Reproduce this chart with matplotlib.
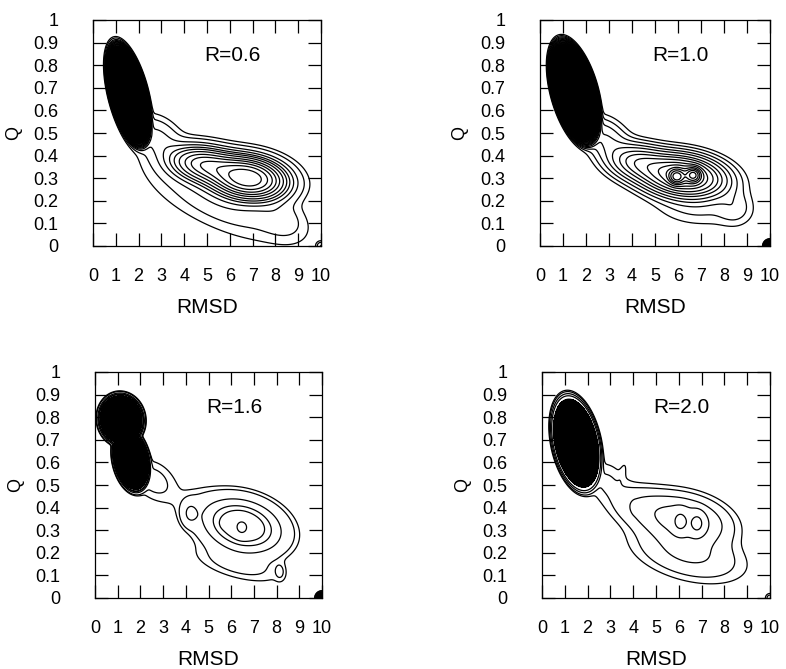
import numpy as np
import matplotlib
matplotlib.use("Agg")
import matplotlib.pyplot as plt

plt.rcParams['font.family'] = ['Liberation Sans', 'DejaVu Sans']

# ---- axes / text data ----
rmsd_ticks = list(range(0, 11))
q_ticks = [0, 0.1, 0.2, 0.3, 0.4, 0.5, 0.6, 0.7, 0.8, 0.9, 1.0]
q_tick_labels = ['0', '0.1', '0.2', '0.3', '0.4', '0.5', '0.6', '0.7', '0.8', '0.9', '1']
panel_labels = ['R=0.6', 'R=1.0', 'R=1.6', 'R=2.0']

# ---- basins ----
# centre (RMSD, Q), widths along/across (fraction of axis), tilt (deg), weight, sharpness
p1_cx = [1.55, 6.8, 4.9, 2.8, 8.3, 5.5, 10.0]
p1_cy = [0.67, 0.30, 0.36, 0.48, 0.12, 0.20, 0.0]
p1_s1 = [0.11, 0.09, 0.09, 0.07, 0.07, 0.20, 0.012]
p1_s2 = [0.038, 0.05, 0.045, 0.05, 0.05, 0.07, 0.012]
p1_ang = [-76, -8, -10, -35, -30, -25, 0]
p1_w = [40, 1.0, 0.45, 0.06, 0.03, 0.04, 0.05]
p1_pow = [2, 1, 1, 1, 1, 1, 1]
p1_levels = [0.2, 0.45, 0.7, 0.95, 1.2, 1.5, 1.8, 2.1, 2.5, 3.0, 3.8, 4.6]

p2_cx = [1.5, 6.2, 5.94, 6.67, 4.3, 2.8, 8.5, 6.8, 10.0]
p2_cy = [0.68, 0.31, 0.307, 0.314, 0.37, 0.48, 0.17, 0.16, 0.0]
p2_s1 = [0.11, 0.10, 0.02, 0.02, 0.08, 0.07, 0.05, 0.12, 0.008]
p2_s2 = [0.044, 0.05, 0.02, 0.02, 0.045, 0.05, 0.05, 0.05, 0.008]
p2_ang = [-75, -8, 0, 0, -10, -35, -40, -5, 0]
p2_w = [40, 0.6, 0.6, 0.6, 0.2, 0.06, 0.025, 0.02, 40]
p2_pow = [2, 1, 1, 1, 1, 1, 1, 1, 1]
p2_levels = [0.0, 0.2, 0.4, 0.6, 0.85, 1.1, 1.4, 1.7, 2.0, 2.4, 2.8, 3.3, 3.9, 4.6]

p3_cx = [1.15, 1.6, 6.5, 6.46, 5.77, 4.2, 4.6, 2.6, 6.3, 8.15, 10.0]
p3_cy = [0.79, 0.61, 0.32, 0.31, 0.33, 0.375, 0.40, 0.52, 0.15, 0.116, 0.0]
p3_s1 = [0.053, 0.066, 0.09, 0.02, 0.012, 0.022, 0.08, 0.07, 0.12, 0.015, 0.008]
p3_s2 = [0.046, 0.036, 0.058, 0.025, 0.012, 0.032, 0.06, 0.05, 0.04, 0.025, 0.008]
p3_ang = [-80, -78, -16, 0, 0, 0, -15, -40, -15, 0, 0]
p3_w = [40, 40, 0.6, 0.35, 0.3, 0.1, 0.015, 0.03, 0.03, 0.02, 40]
p3_pow = [2, 2, 1, 1, 1, 1, 1, 1, 1, 1, 1]
p3_levels = [0.25, 1.12, 1.55, 2.38, 3.9, 4.6]

p4_cx = [1.5, 6.2, 6.07, 6.8, 4.5, 4.07, 3.55, 2.8, 6.4, 10.0]
p4_cy = [0.685, 0.345, 0.338, 0.33, 0.40, 0.40, 0.56, 0.52, 0.20, 0.0]
p4_s1 = [0.10, 0.10, 0.02, 0.02, 0.09, 0.008, 0.035, 0.06, 0.13, 0.012]
p4_s2 = [0.047, 0.055, 0.028, 0.028, 0.05, 0.015, 0.01, 0.05, 0.06, 0.012]
p4_ang = [-78, -12, 0, 0, -15, 0, 75, -40, -15, 0]
p4_w = [40, 0.35, 1.0, 1.0, 0.08, 0.05, 0.012, 0.03, 0.1, 0.05]
p4_pow = [2, 1, 1, 1, 1, 1, 1, 1, 1, 1]
p4_levels = [0.163, 1.5, 2.5, 3.6, 4.4]

panels = [
    (p1_cx, p1_cy, p1_s1, p1_s2, p1_ang, p1_w, p1_pow, p1_levels),
    (p2_cx, p2_cy, p2_s1, p2_s2, p2_ang, p2_w, p2_pow, p2_levels),
    (p3_cx, p3_cy, p3_s1, p3_s2, p3_ang, p3_w, p3_pow, p3_levels),
    (p4_cx, p4_cy, p4_s1, p4_s2, p4_ang, p4_w, p4_pow, p4_levels),
]

# histogram grid
rmsd_grid = np.linspace(0, 10, 201)
q_grid = np.linspace(0, 1, 201)
X, Y = np.meshgrid(rmsd_grid, q_grid)


def free_energy(cx, cy, s1, s2, ang, w, pw):
    u = X / 10.0
    v = Y
    P = np.zeros_like(X)
    for i in range(len(cx)):
        th = np.deg2rad(ang[i])
        du = u - cx[i] / 10.0
        dv = v - cy[i]
        a = du * np.cos(th) + dv * np.sin(th)
        b = -du * np.sin(th) + dv * np.cos(th)
        r2 = 0.5 * ((a / s1[i]) ** 2 + (b / s2[i]) ** 2)
        P += w[i] * np.exp(-(r2 ** pw[i]))
    return -np.log(P + 1e-12)


fig = plt.figure(figsize=(7.86, 6.69), dpi=100)
positions = [
    [93 / 786, 1 - 246 / 669, 228 / 786, 226 / 669],
    [540 / 786, 1 - 246 / 669, 230 / 786, 226 / 669],
    [95 / 786, 1 - 598 / 669, 227 / 786, 226 / 669],
    [542 / 786, 1 - 598 / 669, 228 / 786, 226 / 669],
]

for k, (cx, cy, s1, s2, ang, w, pw, levels) in enumerate(panels):
    ax = fig.add_axes(positions[k])
    F = free_energy(cx, cy, s1, s2, ang, w, pw)
    # the deep (native) basins are solid black from overlapping contours
    Fn = np.ma.masked_where((X > 3.0) & (X < 9.5), F)
    ax.contourf(X, Y, Fn, levels=[F.min() - 1, levels[0]], colors=['black'])
    ax.contour(X, Y, F, levels=levels, colors='black', linewidths=0.9)
    ax.set_xlim(0, 10)
    ax.set_ylim(0, 1)
    ax.set_xticks(rmsd_ticks)
    ax.set_xticklabels([str(t) for t in rmsd_ticks])
    ax.set_yticks(q_ticks)
    ax.set_yticklabels(q_tick_labels)
    ax.tick_params(direction='in', length=9.5, width=0.9, top=True, right=True,
                   labelsize=13)
    ax.tick_params(axis='x', pad=16)
    ax.tick_params(axis='y', pad=25)
    for sp in ax.spines.values():
        sp.set_linewidth(0.9)
    ax.set_xlabel('RMSD', fontsize=15)
    ax.xaxis.set_label_coords(0.5, -0.23)
    ax.set_ylabel('Q', fontsize=13)
    ax.yaxis.set_label_coords(-0.311, 0.5)
    ax.text(0.49, 0.843, panel_labels[k], transform=ax.transAxes,
            fontsize=15, ha='left', va='center')

fig.savefig('out.png', dpi=100)
